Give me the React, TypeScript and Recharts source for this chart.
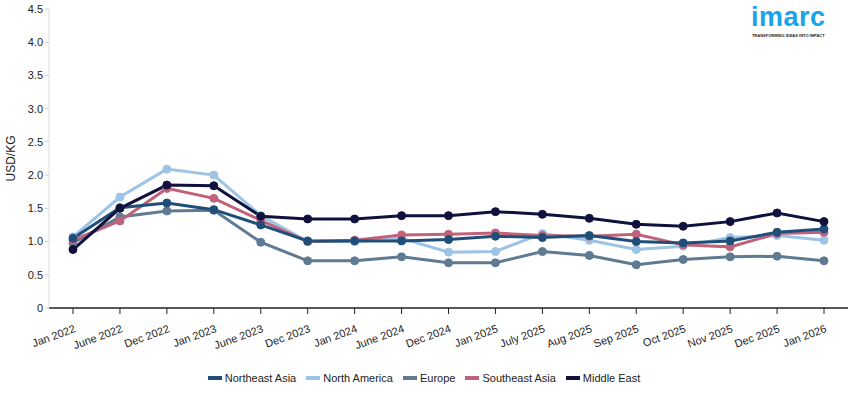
import { CartesianGrid, Legend, Line, LineChart, XAxis, YAxis } from "recharts";

const months = [
  "Jan 2022", "June 2022", "Dec 2022", "Jan 2023", "June 2023", "Dec 2023",
  "Jan 2024", "June 2024", "Dec 2024", "Jan 2025", "July 2025", "Aug 2025",
  "Sep 2025", "Oct 2025", "Nov 2025", "Dec 2025", "Jan 2026",
];

const northeastAsia = [1.05, 1.51, 1.58, 1.48, 1.25, 1.01, 1.01, 1.01, 1.03, 1.08, 1.06, 1.09, 1.0, 0.98, 1.01, 1.14, 1.19];
const northAmerica = [1.07, 1.67, 2.09, 2.0, 1.39, 1.0, 1.0, 1.05, 0.84, 0.85, 1.12, 1.02, 0.88, 0.93, 1.06, 1.09, 1.02];
const europe = [0.98, 1.37, 1.46, 1.47, 0.99, 0.71, 0.71, 0.77, 0.68, 0.68, 0.85, 0.79, 0.65, 0.73, 0.77, 0.78, 0.71];
const southeastAsia = [1.02, 1.31, 1.8, 1.65, 1.32, 1.0, 1.02, 1.1, 1.11, 1.13, 1.09, 1.08, 1.11, 0.95, 0.92, 1.12, 1.14];
const middleEast = [0.88, 1.5, 1.85, 1.84, 1.38, 1.34, 1.34, 1.39, 1.39, 1.45, 1.41, 1.35, 1.26, 1.23, 1.3, 1.43, 1.3];

const yTicks = [0, 0.5, 1, 1.5, 2, 2.5, 3, 3.5, 4, 4.5];

const series = [
  { key: "Northeast Asia", values: northeastAsia, color: "#1f4e79" },
  { key: "North America", values: northAmerica, color: "#9dc3e6" },
  { key: "Europe", values: europe, color: "#5f7a93" },
  { key: "Southeast Asia", values: southeastAsia, color: "#c0627b" },
  { key: "Middle East", values: middleEast, color: "#10113d" },
];

// draw order: lighter ones underneath
const drawOrder = ["North America", "Europe", "Southeast Asia", "Northeast Asia", "Middle East"];

const data = months.map((month, i) => {
  const row: Record<string, string | number> = { month };
  series.forEach((s) => {
    row[s.key] = s.values[i];
  });
  return row;
});

const font = "'Liberation Sans', Arial, sans-serif";

function XTick(props: any) {
  const { x, y, payload } = props;
  return (
    <g transform={`translate(${x + 2},${y + 12})`}>
      <text
        textAnchor="end"
        fontSize={11}
        fill="#222"
        fontFamily={font}
        transform="rotate(-20)"
        dy={4}
      >
        {payload.value}
      </text>
    </g>
  );
}

function LegendBox() {
  return (
    <div
      style={{
        display: "flex",
        justifyContent: "center",
        gap: 10,
        fontFamily: font,
        fontSize: 11,
        color: "#222",
        height: 30,
        alignItems: "center",
      }}
    >
      {series.map((s) => (
        <div key={s.key} style={{ display: "flex", alignItems: "center", gap: 3 }}>
          <span style={{ display: "inline-block", width: 14, height: 4, background: s.color }} />
          <span>{s.key}</span>
        </div>
      ))}
    </div>
  );
}

export default function App() {
  return (
    <div style={{ position: "relative", width: 855, height: 393, background: "#fff" }}>
      <style>{`body{margin:0}`}</style>
      <LineChart
        width={855}
        height={393}
        data={data}
        margin={{ top: 9, right: 7, left: 0, bottom: 0 }}
      >
        <CartesianGrid stroke="none" />
        <XAxis
          dataKey="month"
          interval={0}
          height={55}
          padding={{ left: 24, right: 24 }}
          tick={<XTick />}
          tickLine={{ stroke: "#222" }}
          tickSize={6}
          axisLine={{ stroke: "#222", strokeWidth: 1.5 }}
        />
        <YAxis
          width={49}
          domain={[0, 4.5]}
          ticks={yTicks}
          interval={0}
          tickFormatter={(v: number) => (v === 0 ? "0" : v.toFixed(1))}
          tick={{ fontSize: 11, fill: "#222", fontFamily: font }}
          tickLine={{ stroke: "#ccc" }}
          tickSize={4}
          axisLine={{ stroke: "#ddd" }}
          label={{
            value: "USD/KG",
            angle: -90,
            position: "insideLeft",
            dx: 6,
            style: { textAnchor: "middle", fontSize: 12, fill: "#222", fontFamily: font },
          }}
        />
        <Legend verticalAlign="bottom" content={() => <LegendBox />} />
        {drawOrder.map((k) => {
          const s = series.find((x) => x.key === k)!;
          return (
            <Line
              key={s.key}
              dataKey={s.key}
              stroke={s.color}
              strokeWidth={3}
              dot={{ r: 4, fill: s.color, stroke: s.color, strokeWidth: 1 }}
              activeDot={false}
              isAnimationActive={false}
            />
          );
        })}
      </LineChart>
      <div style={{ position: "absolute", left: 751, top: 2, textAlign: "center", fontFamily: font }}>
        <div style={{ fontSize: 27, fontWeight: 700, color: "#1aa3e8", lineHeight: "30px", letterSpacing: 0.5 }}>
          imarc
        </div>
        <div style={{ fontSize: 4, fontWeight: 700, color: "#222", whiteSpace: "nowrap", marginTop: 1 }}>
          TRANSFORMING IDEAS INTO IMPACT
        </div>
      </div>
    </div>
  );
}
